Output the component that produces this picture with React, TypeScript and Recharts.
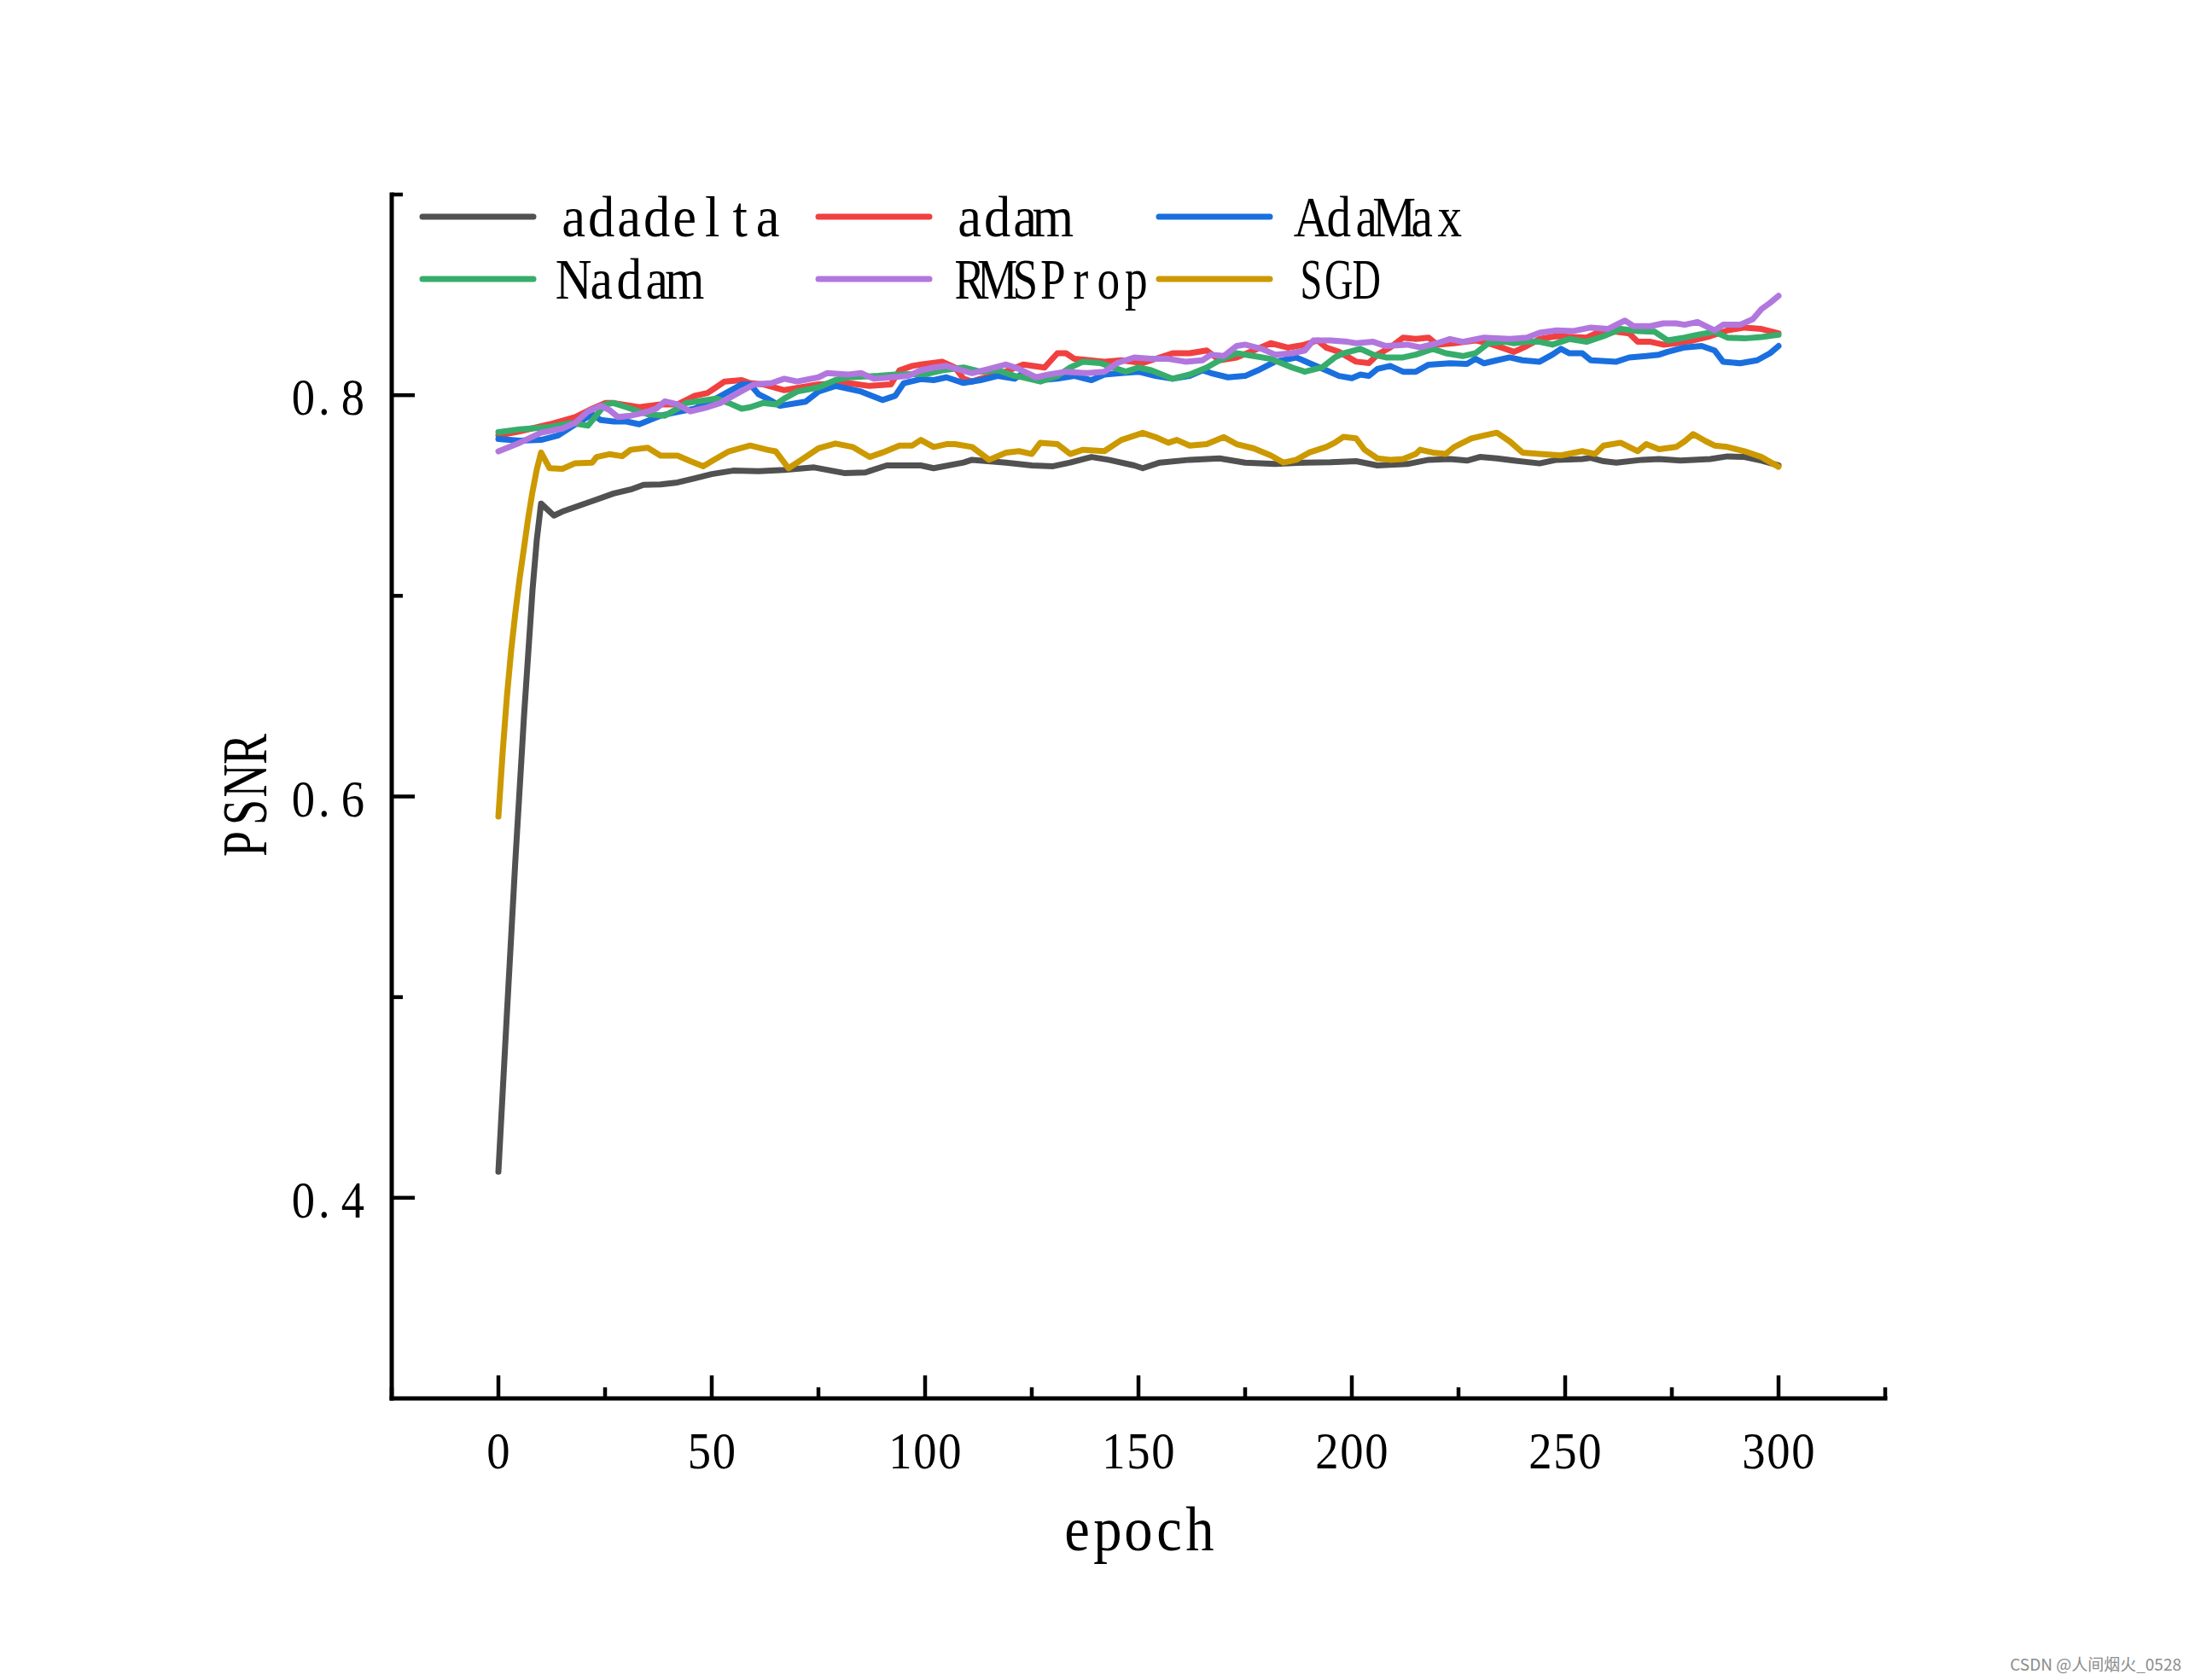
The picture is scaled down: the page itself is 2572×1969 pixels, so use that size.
import React from "react";
import { LineChart, Line, XAxis, YAxis, Legend, Label } from "recharts";

const W = 2572;
const H = 1969;
const FONT = "'Liberation Serif', 'DejaVu Serif', serif";

// values (epoch -> PSNR)
const adadeltaEpoch = [0, 2, 4, 6, 8, 9, 10, 11, 13, 15, 19, 23, 27, 31, 34, 38, 42, 46, 50, 55, 61, 67, 74, 81, 86, 91, 95, 99, 102, 109, 111, 119, 125, 130, 134, 139, 143, 149, 151, 155, 162, 169, 175, 182, 189, 195, 201, 206, 213, 218, 223, 227, 230, 234, 238, 244, 248, 254, 256, 259, 262, 268, 272, 277, 284, 288, 292, 296, 300];
const adadeltaPsnr = [0.413, 0.492, 0.569, 0.64, 0.703, 0.728, 0.746, 0.744, 0.74, 0.742, 0.745, 0.748, 0.751, 0.753, 0.7553, 0.7555, 0.7565, 0.7586, 0.7607, 0.7624, 0.7621, 0.7628, 0.764, 0.7612, 0.7615, 0.765, 0.765, 0.765, 0.7636, 0.7664, 0.7678, 0.7664, 0.765, 0.7646, 0.7664, 0.7692, 0.7678, 0.765, 0.7636, 0.7664, 0.7678, 0.7685, 0.7664, 0.7657, 0.7664, 0.7666, 0.7671, 0.765, 0.7657, 0.7678, 0.7682, 0.7674, 0.7692, 0.7685, 0.7674, 0.766, 0.7678, 0.7682, 0.7688, 0.7671, 0.7664, 0.7678, 0.7682, 0.7674, 0.7682, 0.7695, 0.7692, 0.7674, 0.765];

const adamEpoch = [0, 5, 12, 18, 22, 25, 27, 33, 38, 42, 46, 49, 51, 53, 57, 59, 62, 67, 75, 82, 87, 92, 94, 97, 99, 104, 107, 109, 111, 113, 118, 123, 128, 131, 133, 135, 142, 146, 151, 158, 162, 166, 169, 173, 177, 181, 185, 189, 192, 194, 197, 201, 204, 206, 209, 212, 215, 218, 220, 224, 229, 233, 236, 238, 241, 244, 248, 255, 258, 262, 265, 267, 270, 273, 276, 280, 284, 288, 292, 296, 300];
const adamPsnr = [0.7799, 0.782, 0.7855, 0.7891, 0.7933, 0.7961, 0.7961, 0.794, 0.7954, 0.7954, 0.7997, 0.8011, 0.8039, 0.8068, 0.8075, 0.806, 0.8054, 0.8025, 0.8054, 0.806, 0.8046, 0.8054, 0.8124, 0.8146, 0.8153, 0.8167, 0.8138, 0.8082, 0.8068, 0.8082, 0.811, 0.8153, 0.8138, 0.8209, 0.8209, 0.8181, 0.8167, 0.8174, 0.816, 0.8209, 0.8209, 0.8223, 0.8174, 0.8188, 0.8223, 0.8259, 0.8237, 0.8252, 0.8273, 0.8237, 0.8216, 0.8167, 0.816, 0.8202, 0.8238, 0.8287, 0.828, 0.8287, 0.8252, 0.8259, 0.8273, 0.8252, 0.8231, 0.8216, 0.8245, 0.828, 0.8294, 0.8287, 0.8316, 0.8316, 0.8308, 0.8266, 0.8266, 0.8252, 0.8259, 0.8273, 0.8294, 0.8323, 0.8337, 0.833, 0.8308];

const adamaxEpoch = [0, 5, 10, 14, 17, 22, 24, 27, 30, 33, 38, 41, 46, 51, 57, 59, 61, 63, 66, 72, 75, 79, 85, 90, 93, 95, 99, 102, 105, 109, 113, 117, 121, 123, 127, 131, 135, 139, 142, 146, 150, 154, 158, 162, 165, 167, 171, 175, 178, 182, 187, 190, 194, 197, 200, 202, 204, 206, 209, 212, 215, 218, 223, 227, 229, 231, 234, 237, 240, 244, 247, 249, 251, 254, 256, 262, 265, 269, 272, 274, 278, 282, 285, 287, 291, 295, 298, 300];
const adamaxPsnr = [0.7782, 0.7773, 0.7777, 0.7799, 0.7841, 0.7905, 0.7876, 0.7869, 0.7869, 0.7855, 0.7898, 0.7912, 0.7933, 0.7983, 0.8054, 0.8054, 0.8004, 0.7983, 0.7947, 0.7968, 0.8018, 0.8046, 0.8018, 0.7976, 0.7997, 0.806, 0.808, 0.8075, 0.8089, 0.8061, 0.8075, 0.8096, 0.8082, 0.811, 0.8075, 0.8082, 0.8096, 0.8075, 0.8103, 0.811, 0.8117, 0.8096, 0.8082, 0.8096, 0.8124, 0.811, 0.8089, 0.8096, 0.8124, 0.8167, 0.8188, 0.816, 0.8124, 0.8096, 0.8085, 0.8103, 0.8096, 0.8131, 0.8146, 0.8117, 0.8117, 0.8152, 0.8159, 0.8156, 0.8181, 0.8159, 0.8174, 0.8188, 0.8174, 0.8167, 0.8202, 0.8231, 0.8209, 0.8209, 0.8174, 0.8167, 0.8188, 0.8195, 0.8202, 0.8216, 0.8238, 0.8245, 0.8223, 0.8167, 0.8159, 0.8174, 0.8209, 0.8245];

const nadamEpoch = [0, 5, 12, 17, 21, 25, 27, 30, 33, 35, 39, 42, 44, 49, 51, 54, 57, 59, 62, 65, 67, 70, 75, 79, 82, 89, 93, 97, 100, 104, 109, 113, 117, 121, 123, 127, 131, 134, 137, 141, 143, 147, 150, 153, 158, 162, 166, 169, 173, 177, 181, 186, 189, 193, 196, 198, 202, 205, 208, 212, 215, 219, 222, 226, 229, 232, 236, 238, 241, 244, 247, 251, 255, 259, 263, 267, 271, 274, 278, 281, 285, 288, 292, 296, 300];
const nadamPsnr = [0.7816, 0.783, 0.7841, 0.7862, 0.7848, 0.7954, 0.7961, 0.794, 0.7919, 0.7905, 0.7898, 0.7933, 0.7961, 0.7976, 0.7983, 0.7961, 0.7933, 0.794, 0.7961, 0.7954, 0.7983, 0.8018, 0.8039, 0.8075, 0.8089, 0.8096, 0.8103, 0.8105, 0.8105, 0.8124, 0.8138, 0.8117, 0.8124, 0.8096, 0.8089, 0.8068, 0.8096, 0.8138, 0.8167, 0.816, 0.8146, 0.8117, 0.8138, 0.8124, 0.8082, 0.8103, 0.8138, 0.8174, 0.8209, 0.8195, 0.8181, 0.8138, 0.8117, 0.8138, 0.8188, 0.8209, 0.8231, 0.8202, 0.8188, 0.8188, 0.8202, 0.8231, 0.8209, 0.8195, 0.8209, 0.8259, 0.8266, 0.8259, 0.8266, 0.8266, 0.8252, 0.828, 0.8266, 0.8294, 0.833, 0.832, 0.8316, 0.8273, 0.8287, 0.8301, 0.8316, 0.8287, 0.8283, 0.829, 0.8301];

const rmspropEpoch = [0, 5, 10, 15, 18, 21, 24, 26, 28, 31, 34, 37, 39, 42, 45, 49, 52, 55, 58, 60, 64, 67, 70, 75, 77, 82, 85, 88, 92, 96, 99, 102, 105, 111, 115, 119, 122, 126, 129, 133, 138, 142, 145, 149, 153, 157, 161, 165, 167, 170, 173, 175, 179, 182, 186, 189, 191, 195, 199, 201, 205, 208, 213, 216, 220, 223, 226, 231, 237, 241, 244, 248, 252, 256, 260, 264, 266, 270, 273, 276, 278, 281, 283, 285, 287, 291, 294, 296, 298, 300];
const rmspropPsnr = [0.772, 0.7763, 0.7813, 0.7834, 0.7862, 0.7919, 0.7947, 0.7926, 0.7891, 0.7898, 0.7912, 0.7933, 0.7969, 0.7954, 0.7919, 0.794, 0.7961, 0.7997, 0.8032, 0.8054, 0.806, 0.8082, 0.8068, 0.8089, 0.811, 0.8103, 0.811, 0.8082, 0.8089, 0.8096, 0.8124, 0.8138, 0.8146, 0.811, 0.8131, 0.8153, 0.8131, 0.8089, 0.8103, 0.8117, 0.811, 0.8117, 0.816, 0.8188, 0.8181, 0.8181, 0.8167, 0.8174, 0.8202, 0.8195, 0.8245, 0.8252, 0.823, 0.8202, 0.8209, 0.8223, 0.8273, 0.8273, 0.8266, 0.8259, 0.8266, 0.8245, 0.8252, 0.8238, 0.8259, 0.828, 0.8266, 0.8287, 0.828, 0.8287, 0.8311, 0.8323, 0.832, 0.8337, 0.833, 0.8372, 0.8344, 0.8344, 0.8358, 0.8358, 0.8351, 0.8365, 0.8344, 0.8323, 0.8351, 0.8351, 0.8379, 0.8429, 0.846, 0.8495];

const sgdEpoch = [0, 1, 2, 3, 4, 5, 6, 7, 8, 9, 10, 12, 15, 18, 22, 23, 26, 29, 31, 35, 38, 42, 45, 48, 50, 54, 59, 63, 65, 68, 71, 75, 79, 83, 87, 90, 94, 97, 99, 102, 105, 107, 111, 115, 119, 122, 125, 127, 131, 134, 137, 142, 146, 151, 154, 157, 159, 162, 166, 170, 173, 177, 181, 184, 187, 190, 194, 196, 198, 201, 203, 206, 209, 212, 215, 216, 219, 222, 224, 228, 231, 234, 237, 240, 244, 249, 254, 257, 259, 263, 267, 269, 272, 276, 278, 280, 283, 285, 288, 292, 296, 300];
const sgdPsnr = [0.59, 0.622, 0.65, 0.673, 0.692, 0.709, 0.724, 0.739, 0.752, 0.763, 0.7714, 0.7636, 0.7633, 0.7661, 0.7664, 0.7692, 0.7706, 0.7696, 0.7728, 0.7738, 0.7699, 0.7699, 0.7671, 0.7646, 0.7671, 0.772, 0.7749, 0.7728, 0.772, 0.7636, 0.7678, 0.7735, 0.7759, 0.7742, 0.7692, 0.7714, 0.7749, 0.7749, 0.7777, 0.7742, 0.7756, 0.7756, 0.7742, 0.7678, 0.7714, 0.7721, 0.7707, 0.7763, 0.7756, 0.7707, 0.7728, 0.7721, 0.7777, 0.7812, 0.7791, 0.7763, 0.7777, 0.7749, 0.7756, 0.7791, 0.7756, 0.7735, 0.77, 0.7664, 0.7678, 0.7714, 0.7742, 0.7763, 0.7792, 0.7785, 0.7728, 0.7685, 0.7678, 0.7682, 0.7707, 0.7728, 0.7714, 0.7707, 0.7742, 0.7784, 0.7799, 0.7813, 0.777, 0.7714, 0.7707, 0.77, 0.7721, 0.7707, 0.7749, 0.7763, 0.7721, 0.7756, 0.7731, 0.7742, 0.777, 0.7806, 0.777, 0.7749, 0.7742, 0.7721, 0.7692, 0.7643];

const xTicks = [-25, 0, 25, 50, 75, 100, 125, 150, 175, 200, 225, 250, 275, 300, 325];
const xLabels = [0, 50, 100, 150, 200, 250, 300];
const yTicks = [0.4, 0.5, 0.6, 0.7, 0.8, 0.9];
const yLabels = [0.4, 0.6, 0.8];

const toPoints = (xs: number[], ys: number[]) =>
	xs.map((epoch, i) => ({ epoch, psnr: ys[i] }));

const SERIES = [
	{ name: "adadelta", xs: adadeltaEpoch, ys: adadeltaPsnr, color: "#515151" },
	{ name: "adam", xs: adamEpoch, ys: adamPsnr, color: "#F14040" },
	{ name: "AdaMax", xs: adamaxEpoch, ys: adamaxPsnr, color: "#1A6FDF" },
	{ name: "Nadam", xs: nadamEpoch, ys: nadamPsnr, color: "#37AD6B" },
	{ name: "RMSProp", xs: rmspropEpoch, ys: rmspropPsnr, color: "#B177DE" },
	{ name: "SGD", xs: sgdEpoch, ys: sgdPsnr, color: "#CC9900" },
];

// legend slots: 3 columns x 2 rows
const LEGEND_COLS = [
	{ line: 495, text: 656 },
	{ line: 959, text: 1120 },
	{ line: 1358, text: 1520 },
];
const LEGEND_ROWS = [254, 327];

// fixed-pitch text, one glyph per cell (the original uses a SimSun-like font).
// glyphs are squeezed more when the word has capitals, which are wide in Times.
function MonoText({
	x,
	y,
	text,
	cell,
	size,
	lowSx = 1,
	capSx = 1,
	anchor = "start",
	rotate = 0,
	fill = "#000",
}: any) {
	const chars = Array.from(String(text));
	const caps = chars.filter((c) => /[A-Z]/.test(c)).length;
	const sx = lowSx - (lowSx - capSx) * (caps / chars.length);
	const total = chars.length * cell;
	const start = anchor === "middle" ? -total / 2 : anchor === "end" ? -total : 0;
	const xs = chars.map((c, i) => {
		const cx = start + (i + 0.5) * cell - (c === "." ? cell * 0.16 : 0);
		return (cx / sx).toFixed(2);
	});
	return (
		<text
			transform={`translate(${x} ${y}) rotate(${rotate}) scale(${sx} 1)`}
			x={xs.join(" ")}
			y={0}
			textAnchor="middle"
			fontSize={size}
			fontFamily={FONT}
			fill={fill}
		>
			{text}
		</text>
	);
}

function XTick({ x, y, payload }: any) {
	const v = payload.value;
	const major = xLabels.includes(v);
	return (
		<g>
			<line x1={x} x2={x} y1={y} y2={y - (major ? 27 : 13)} stroke="#000" strokeWidth={4.5} />
			{major && <MonoText x={x} y={y + 82} text={String(v)} cell={29} size={62} lowSx={0.88} anchor="middle" />}
		</g>
	);
}

function YTick({ x, y, payload }: any) {
	const v = payload.value;
	const major = yLabels.includes(v);
	return (
		<g>
			<line x1={x} x2={x + (major ? 27 : 13)} y1={y} y2={y} stroke="#000" strokeWidth={4.5} />
			{major && <MonoText x={x - 31} y={y + 23} text={v.toFixed(1)} cell={29} size={62} lowSx={0.88} anchor="end" />}
		</g>
	);
}

function XTitle({ viewBox }: any) {
	const vb = viewBox || { x: 459, y: 1639, width: 1750, height: 200 };
	return <MonoText x={vb.x + vb.width / 2} y={vb.y + 178} text="epoch" cell={36} size={74} lowSx={0.9} anchor="middle" />;
}

function YTitle({ viewBox }: any) {
	const vb = viewBox || { x: 299, y: 228, width: 160, height: 1411 };
	return <MonoText x={vb.x + 13} y={vb.y + vb.height / 2} text="PSNR" cell={37} size={73} capSx={0.74} anchor="middle" rotate={-90} />;
}

function LegendBox() {
	return (
		<svg width={W} height={400} style={{ display: "block" }}>
			{SERIES.map((s, i) => {
				const col = LEGEND_COLS[i % 3];
				const cy = LEGEND_ROWS[Math.floor(i / 3)];
				return (
					<g key={s.name}>
						<line x1={col.line} x2={col.line + 130} y1={cy} y2={cy} stroke={s.color} strokeWidth={7} strokeLinecap="round" />
						<MonoText x={col.text} y={cy + 22.5} text={s.name} cell={32.5} size={68} lowSx={0.92} capSx={0.68} />
					</g>
				);
			})}
		</svg>
	);
}

export default function App() {
	return (
		<div style={{ position: "absolute", left: 0, top: 0, width: W, height: H, background: "#fff" }}>
			<LineChart width={W} height={H} margin={{ top: 228, right: 363, bottom: 130, left: 299 }}>
				<XAxis
					dataKey="epoch"
					type="number"
					domain={[-25, 325]}
					ticks={xTicks}
					interval={0}
					allowDataOverflow
					height={200}
					axisLine={{ stroke: "#000", strokeWidth: 5, strokeLinecap: "square" }}
					tickLine={false}
					tickSize={0}
					tickMargin={0}
					tick={(p: any) => <XTick {...p} />}
					label={<Label content={XTitle} />}
				/>
				<YAxis
					type="number"
					domain={[0.3, 0.9]}
					ticks={yTicks}
					interval={0}
					allowDataOverflow
					width={160}
					axisLine={{ stroke: "#000", strokeWidth: 5, strokeLinecap: "square" }}
					tickLine={false}
					tickSize={0}
					tickMargin={0}
					tick={(p: any) => <YTick {...p} />}
					label={<Label content={YTitle} />}
				/>
				<Legend
					content={() => <LegendBox />}
					layout="vertical"
					align="center"
					verticalAlign="middle"
					wrapperStyle={{ left: 0, top: 0, width: W, height: 400 }}
				/>
				{SERIES.map((s) => (
					<Line
						key={s.name}
						name={s.name}
						data={toPoints(s.xs, s.ys)}
						dataKey="psnr"
						type="linear"
						stroke={s.color}
						strokeWidth={7}
						strokeLinejoin="round"
						strokeLinecap="round"
						dot={false}
						activeDot={false}
						isAnimationActive={false}
					/>
				))}
			</LineChart>
			<div
				style={{
					position: "absolute",
					right: 16,
					top: 1936,
					fontFamily: "'Noto Sans CJK SC', 'Noto Sans', sans-serif",
					fontSize: 19,
					color: "#8c8c8c",
				}}
			>
				CSDN @人间烟火_0528
			</div>
		</div>
	);
}
